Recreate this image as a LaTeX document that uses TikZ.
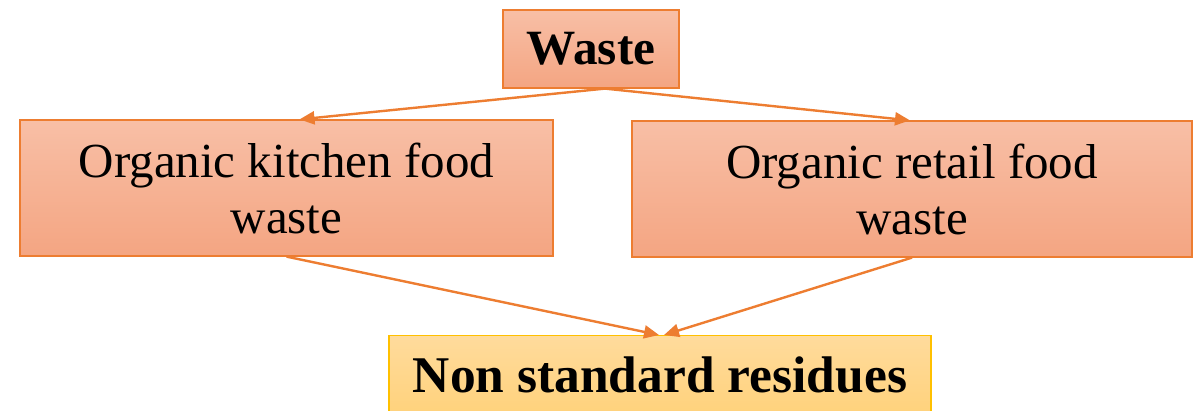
\documentclass[tikz,border=0pt]{standalone}
\usepackage{fontspec}
\setmainfont{Liberation Serif}
\usetikzlibrary{arrows.meta}
\definecolor{borderor}{HTML}{ED7D31}
\definecolor{fillTop}{HTML}{F8BFA6}
\definecolor{fillBot}{HTML}{F4A582}
\definecolor{yelTop}{HTML}{FFDB9C}
\definecolor{yelBot}{HTML}{FFD27C}
\definecolor{yelBorder}{HTML}{FFC000}
\tikzset{
  orbox/.style={draw=borderor, line width=1.2pt, top color=fillTop, bottom color=fillBot,
    inner sep=0pt, align=center, font=\fontsize{49}{56}\selectfont},
  yebox/.style={draw=yelBorder, line width=1.2pt, top color=yelTop, bottom color=yelBot,
    inner sep=0pt, align=center, font=\fontsize{51.5}{56}\selectfont\bfseries},
  conn/.style={draw=borderor, line width=2.4pt, -{Triangle[length=15pt,width=13pt]}},
}
\begin{document}
\begin{tikzpicture}[x=1pt,y=-1pt]
\useasboundingbox (0,0) rectangle (1198,410);
\node[orbox, font=\fontsize{49.3}{56}\selectfont\bfseries, minimum width=176pt, minimum height=78pt] (waste) at (591,49) {Waste};
\node[orbox, minimum width=533pt, minimum height=136pt] (kitchen) at (286.5,188) {Organic kitchen food\\waste};
\node[orbox, minimum width=560pt, minimum height=136pt] (retail) at (912,189) {Organic retail food\\waste};
\node[yebox, minimum width=542pt, minimum height=78pt, anchor=north] (nonstd) at (660,335) {\raisebox{-9pt}{Non standard residues}};
\draw[conn] ([xshift=14pt]waste.south) -- ([xshift=13pt]kitchen.north);
\draw[conn] ([xshift=14pt]waste.south) -- ([xshift=-2pt]retail.north);
\draw[conn] (kitchen.south) -- ([xshift=-1pt]nonstd.north);
\draw[conn] (retail.south) -- ([xshift=4pt]nonstd.north);
\end{tikzpicture}
\end{document}
